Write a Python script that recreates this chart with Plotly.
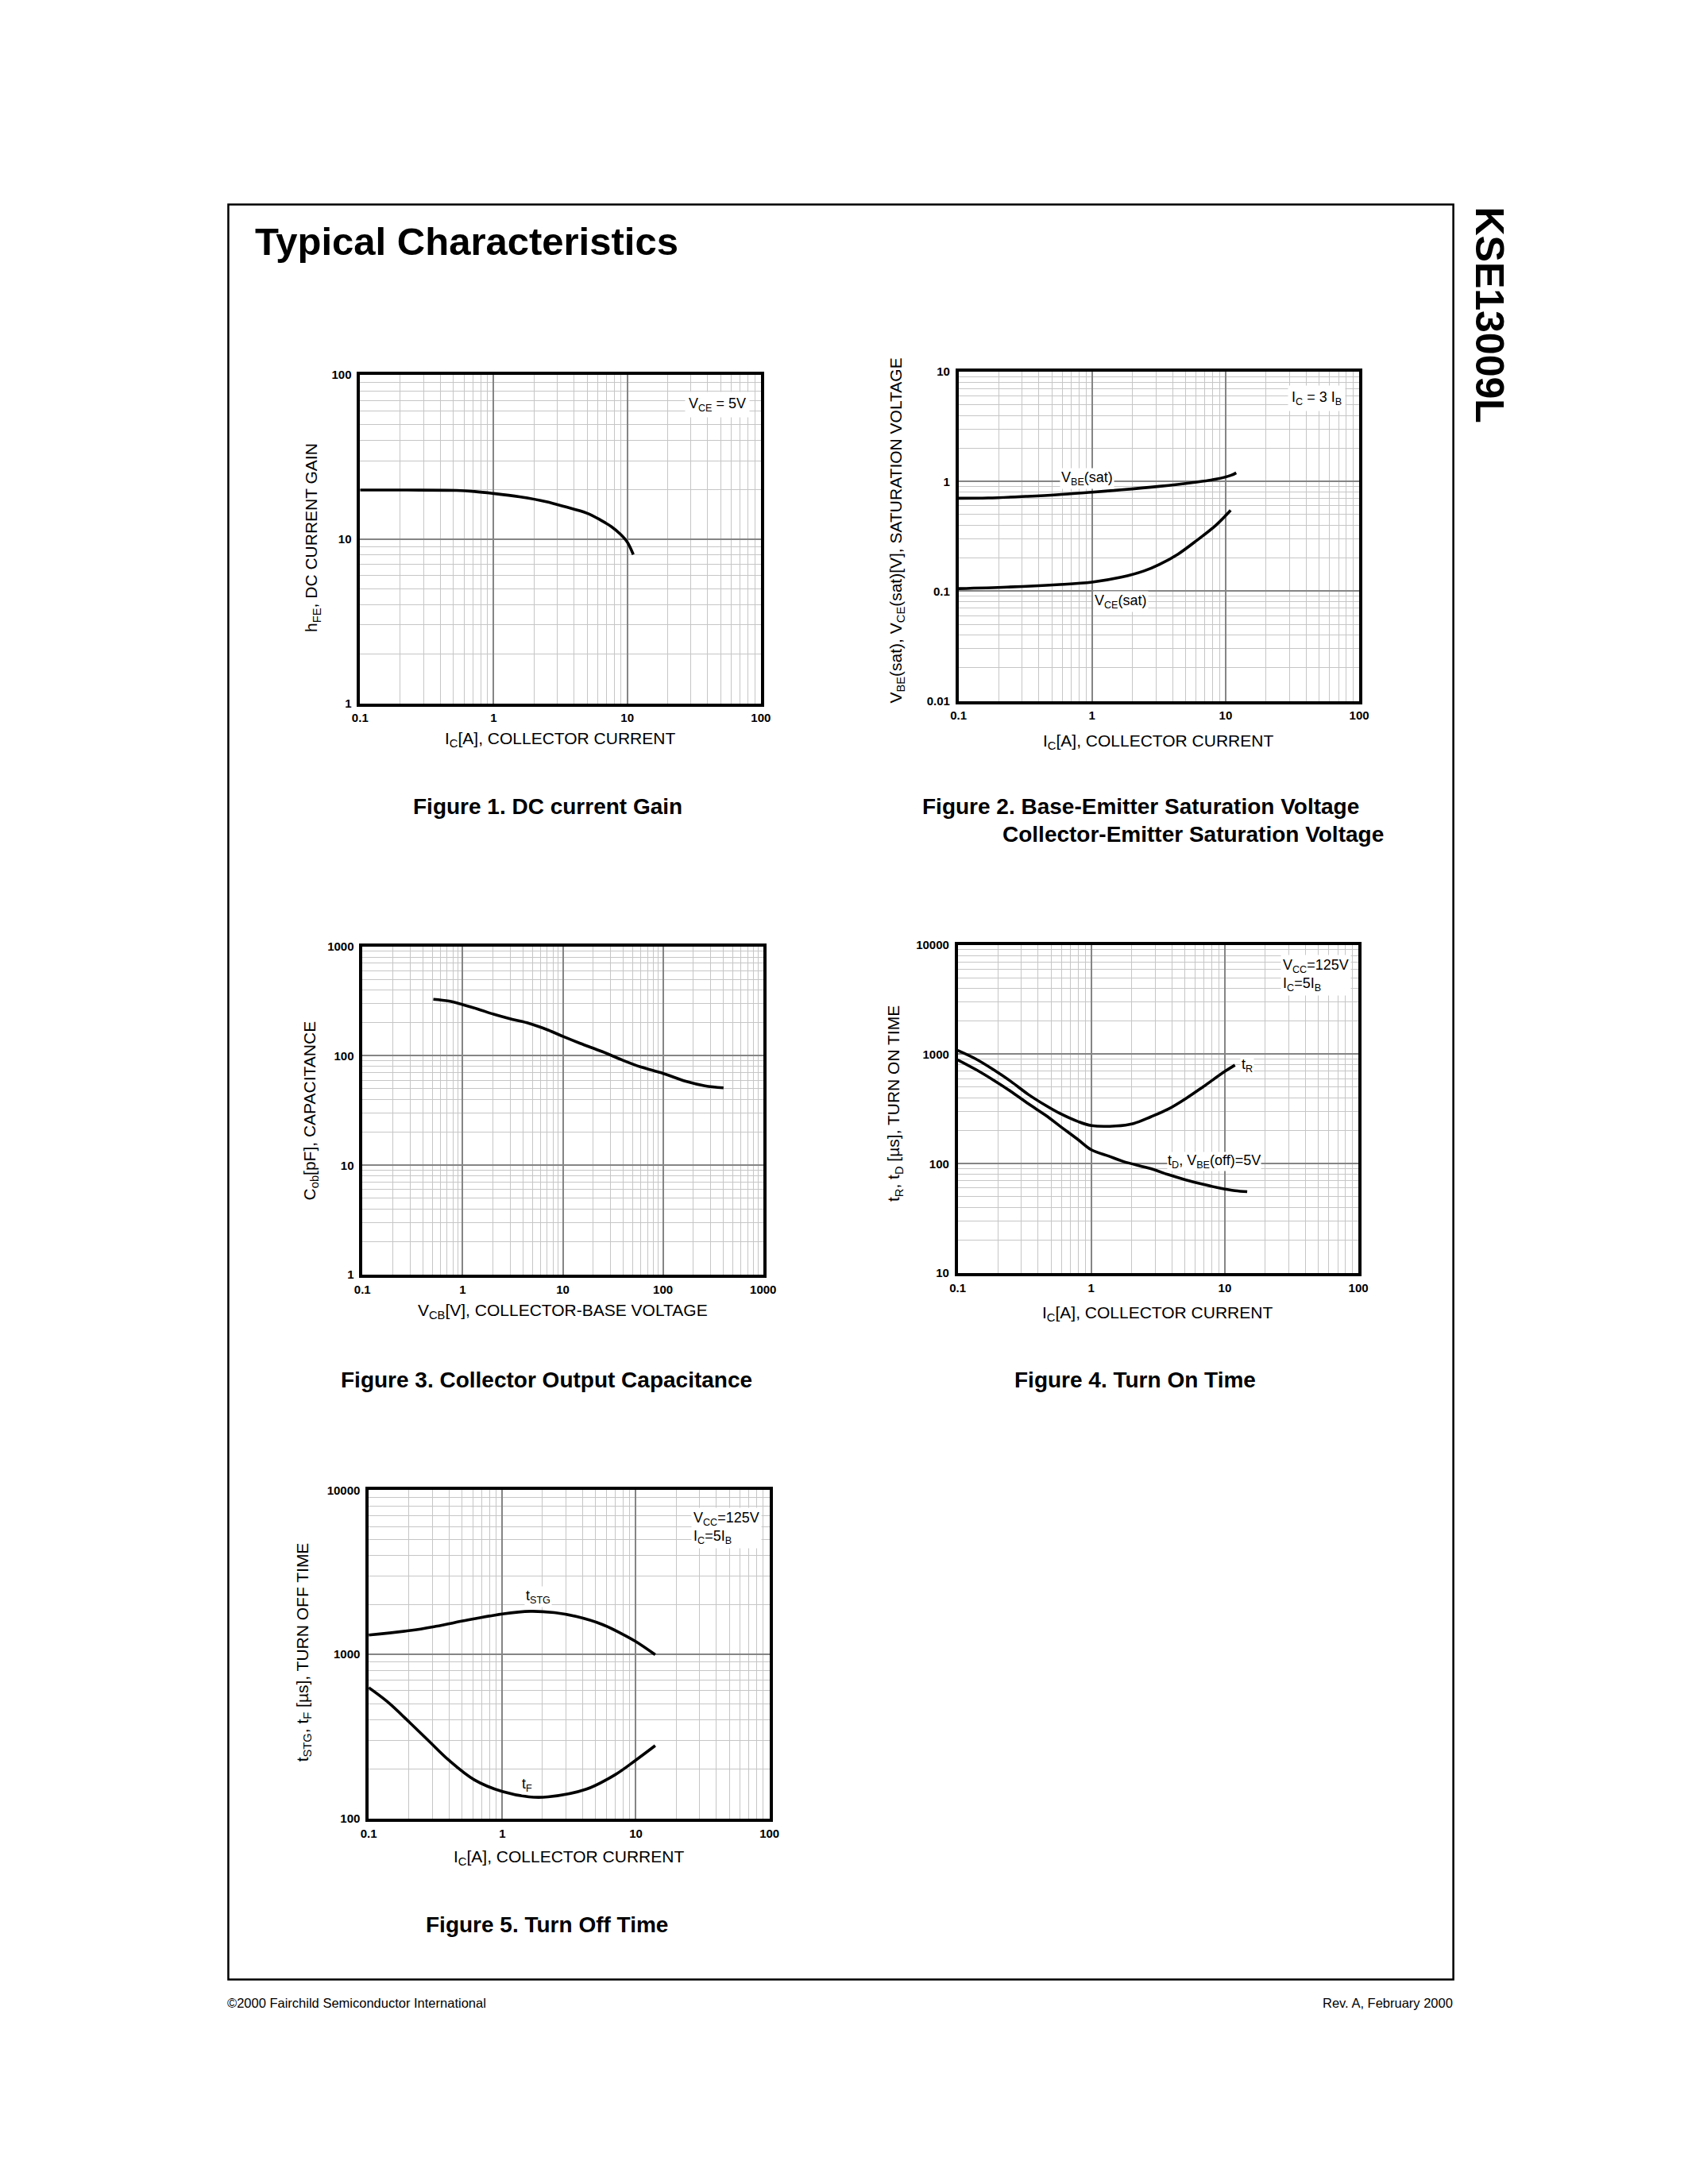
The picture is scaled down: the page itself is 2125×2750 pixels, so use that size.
import numpy as np
import plotly.graph_objects as go

W, H = 2125, 2750

# ---------------- data ----------------
fig1_ic = [0.1, 0.225, 0.528, 0.72, 0.98, 1.56, 2.48, 3.38, 4.98, 6.28, 7.62, 8.91, 10.0, 11.1]
fig1_hfe = [19.9, 19.9, 19.8, 19.5, 19.0, 18.1, 16.9, 15.8, 14.4, 13.1, 11.9, 10.7, 9.6, 8.05]

fig2_ic_vbe = [0.1, 0.167, 0.321, 0.542, 1.0, 1.65, 3.18, 5.73, 8.49, 11.0, 12.0]
fig2_vbe = [0.703, 0.708, 0.732, 0.757, 0.80, 0.839, 0.903, 0.98, 1.05, 1.14, 1.2]
fig2_ic_vce = [0.1, 0.231, 0.542, 1.0, 1.65, 2.45, 3.18, 4.41, 6.12, 8.49, 10.9]
fig2_vce = [0.1056, 0.109, 0.1146, 0.121, 0.134, 0.153, 0.175, 0.218, 0.292, 0.401, 0.547]

fig3_vcb = [0.51, 0.73, 1.0, 1.41, 2.04, 3.18, 4.58, 7.13, 10.1, 14.9, 24.9, 38.7, 60.3, 100.7, 169, 262, 402]
fig3_cob = [329, 316, 294, 268, 240, 215, 198, 172, 150, 130, 109, 92, 79, 69, 58.5, 53.2, 51]

fig4_ic_tr = [0.1, 0.137, 0.185, 0.25, 0.338, 0.457, 0.582, 0.787, 1.0, 1.53, 2.07, 2.79, 3.78, 5.11, 6.9, 10, 11.9]
fig4_tr = [1084, 904, 724, 565, 429, 340, 288, 244, 223, 221, 233, 268, 316, 394, 506, 697, 796]
fig4_ic_td = [0.1, 0.137, 0.185, 0.25, 0.338, 0.457, 0.582, 0.787, 1.0, 1.36, 1.73, 2.79, 3.78, 5.11, 6.9, 9.33, 11.9, 14.7]
fig4_td = [889, 724, 581, 458, 353, 276, 221, 168, 134, 117, 105, 90, 79.4, 71.1, 64.7, 59.6, 56.7, 55.5]

fig5_ic_stg = [0.1, 0.205, 0.318, 0.553, 1.0, 1.62, 2.45, 3.61, 5.61, 7.82, 10, 13.96]
fig5_tstg = [1312, 1397, 1482, 1619, 1763, 1829, 1795, 1698, 1521, 1336, 1196, 995]
fig5_ic_tf = [0.1, 0.139, 0.205, 0.285, 0.397, 0.618, 1.0, 1.58, 2.2, 4.27, 7.0, 10, 13.96]
fig5_tf = [627, 512, 381, 294, 227, 172, 146, 135.5, 135.5, 151, 185, 227, 278]

ticks_01_100 = [0.1, 1, 10, 100]
ticks_01_1000 = [0.1, 1, 10, 100, 1000]
ticks_1_100 = [1, 10, 100]
ticks_001_10 = [0.01, 0.1, 1, 10]
ticks_1_1000 = [1, 10, 100, 1000]
ticks_10_10000 = [10, 100, 1000, 10000]
ticks_100_10000 = [100, 1000, 10000]

FONT = "Liberation Sans, Arial, Helvetica, sans-serif"


def fmt(v):
    return ("%g" % v)


def minor_vals(lo, hi):
    out = []
    k = int(np.floor(np.log10(lo)))
    while 10 ** k < hi:
        for m in range(2, 10):
            v = m * 10 ** k
            if lo < v < hi:
                out.append(v)
        k += 1
    return out


def log_axis(lo, hi, px0, px1, total, ticks, vertical=False, anchor=None):
    if vertical:
        dom = [1 - px1 / total, 1 - px0 / total]
    else:
        dom = [px0 / total, px1 / total]
    return dict(
        type="log", range=[np.log10(lo), np.log10(hi)], domain=dom, anchor=anchor,
        tickmode="array", tickvals=ticks, ticktext=[fmt(t) for t in ticks],
        showgrid=True, gridcolor="#858585", gridwidth=2.2,
        minor=dict(tickmode="array", tickvals=minor_vals(lo, hi), showgrid=True,
                   gridcolor="#c6c6c6", gridwidth=1.2, ticks=""),
        showline=True, linecolor="black", linewidth=3.5, mirror=True,
        ticks="", ticklabelstandoff=4 if vertical else 2, zeroline=False,
        tickfont=dict(family=FONT, size=15, color="black", weight="bold"),
    )


fig = go.Figure()
line = dict(color="black", width=3.6, shape="spline", smoothing=1.0)

# plot boxes (pixels): x0, x1, y0(top), y1(bottom)
boxes = {
    1: (449, 960, 466, 882),
    2: (1212, 1723, 462, 879),
    3: (452, 963, 1190, 1606),
    4: (1211, 1722, 1188, 1604),
    5: (460, 971, 1879, 2295),
}
axes_spec = {
    1: ((0.1, 100, ticks_01_100), (1, 100, ticks_1_100)),
    2: ((0.1, 100, ticks_01_100), (0.01, 10, ticks_001_10)),
    3: ((0.1, 1000, ticks_01_1000), (1, 1000, ticks_1_1000)),
    4: ((0.1, 100, ticks_01_100), (10, 10000, ticks_10_10000)),
    5: ((0.1, 100, ticks_01_100), (100, 10000, ticks_100_10000)),
}
layout_axes = {}
for i, (x0, x1, y0, y1) in boxes.items():
    (xl, xh, xt), (yl, yh, yt) = axes_spec[i]
    xa = "xaxis" if i == 1 else "xaxis%d" % i
    ya = "yaxis" if i == 1 else "yaxis%d" % i
    layout_axes[xa] = log_axis(xl, xh, x0, x1, W, xt, anchor="y" if i == 1 else "y%d" % i)
    layout_axes[ya] = log_axis(yl, yh, y0, y1, H, yt, vertical=True, anchor="x" if i == 1 else "x%d" % i)


def ax(i):
    return ("x", "y") if i == 1 else ("x%d" % i, "y%d" % i)


def add(i, xs, ys):
    xr, yr = ax(i)
    fig.add_trace(go.Scatter(x=xs, y=ys, mode="lines", line=line, xaxis=xr, yaxis=yr,
                             showlegend=False, hoverinfo="skip"))


add(1, fig1_ic, fig1_hfe)
add(2, fig2_ic_vbe, fig2_vbe)
add(2, fig2_ic_vce, fig2_vce)
add(3, fig3_vcb, fig3_cob)
add(4, fig4_ic_tr, fig4_tr)
add(4, fig4_ic_td, fig4_td)
add(5, fig5_ic_stg, fig5_tstg)
add(5, fig5_ic_tf, fig5_tf)

ann = []


def paper_text(text, x, y, size, bold=False, xanchor="center", yanchor="middle", angle=0):
    ann.append(dict(text=text, x=x / W, y=1 - y / H, xref="paper", yref="paper",
                    xanchor=xanchor, yanchor=yanchor, showarrow=False, textangle=angle,
                    font=dict(family=FONT, size=size, color="black",
                              weight="bold" if bold else "normal")))


def data_text(i, text, x, y, size=18, xanchor="center", align="left", pad=1):
    xr, yr = ax(i)
    ann.append(dict(text=text, x=np.log10(x), y=np.log10(y), xref=xr, yref=yr,
                    xanchor=xanchor, yanchor="middle", showarrow=False, align=align,
                    bgcolor="white", borderpad=pad,
                    font=dict(family=FONT, size=size, color="black")))


# page title and side label
paper_text("Typical Characteristics", 313, 297, 49, bold=True, xanchor="left")
paper_text("KSE13009L", 1889, 251, 50, bold=True, yanchor="top", angle=90)

# axis titles
AT = 21
paper_text("h<sub>FE</sub>, DC CURRENT GAIN", 388, 672, AT, angle=-90)
paper_text("I<sub>C</sub>[A], COLLECTOR CURRENT", 704, 928, AT)
paper_text("V<sub>BE</sub>(sat), V<sub>CE</sub>(sat)[V], SATURATION VOLTAGE", 1133, 663, AT, angle=-90)
paper_text("I<sub>C</sub>[A], COLLECTOR CURRENT", 1467, 931, AT)
paper_text("C<sub>ob</sub>[pF], CAPACITANCE", 386, 1398, AT, angle=-90)
paper_text("V<sub>CB</sub>[V], COLLECTOR-BASE VOLTAGE", 707, 1652, AT)
paper_text("t<sub>R</sub>, t<sub>D</sub> [µs], TURN ON TIME", 1131, 1389, AT, angle=-90)
paper_text("I<sub>C</sub>[A], COLLECTOR CURRENT", 1466, 1655, AT)
paper_text("t<sub>STG</sub>, t<sub>F</sub> [µs], TURN OFF TIME", 377, 2084, AT, angle=-90)
paper_text("I<sub>C</sub>[A], COLLECTOR CURRENT", 715, 2344, AT)

# figure captions
CS = 28
paper_text("Figure 1. DC current Gain", 688, 1013, CS, bold=True)
paper_text("Figure 2. Base-Emitter Saturation Voltage", 1164, 1013, CS, bold=True, xanchor="left")
paper_text("Collector-Emitter Saturation Voltage", 1266, 1048, CS, bold=True, xanchor="left")
paper_text("Figure 3. Collector Output Capacitance", 687, 1739, CS, bold=True)
paper_text("Figure 4. Turn On Time", 1437, 1739, CS, bold=True)
paper_text("Figure 5. Turn Off Time", 687, 2430, CS, bold=True)

# footer
paper_text("©2000 Fairchild Semiconductor International", 278, 2529, 16.5, xanchor="left")
paper_text("Rev. A, February 2000", 1844, 2529, 16.5, xanchor="right")

# in-plot labels
data_text(1, "V<sub>CE</sub> = 5V", 47, 66, pad=4)
data_text(2, "I<sub>C</sub> = 3 I<sub>B</sub>", 48, 5.7, pad=4)
data_text(2, "V<sub>BE</sub>(sat)", 0.92, 1.07)
data_text(2, "V<sub>CE</sub>(sat)", 1.65, 0.081)
data_text(4, "V<sub>CC</sub>=125V<br>I<sub>C</sub>=5I<sub>B</sub>", 26, 5300, xanchor="left", pad=2)
data_text(4, "t<sub>R</sub>", 14.6, 790)
data_text(4, "t<sub>D</sub>, V<sub>BE</sub>(off)=5V", 8.3, 104, pad=0)
data_text(5, "V<sub>CC</sub>=125V<br>I<sub>C</sub>=5I<sub>B</sub>", 26, 5900, xanchor="left", pad=2)
data_text(5, "t<sub>STG</sub>", 1.86, 2240)
data_text(5, "t<sub>F</sub>", 1.53, 161, pad=0)

shapes = [dict(type="rect", xref="paper", yref="paper", x0=281 / W, x1=1843 / W,
               y0=1 - 2499 / H, y1=1 - 250 / H, line=dict(color="black", width=2.5),
               layer="below")]

fig.update_layout(
    width=W, height=H, margin=dict(l=0, r=0, t=0, b=0),
    paper_bgcolor="white", plot_bgcolor="white",
    font=dict(family=FONT, color="black"),
    annotations=ann, shapes=shapes, showlegend=False,
    **layout_axes,
)

fig.write_html(
    "out.html",
    config={"displayModeBar": False},
    post_script="document.body.style.margin='0';document.body.style.overflow='hidden';"
                "document.documentElement.style.overflow='hidden';",
)
